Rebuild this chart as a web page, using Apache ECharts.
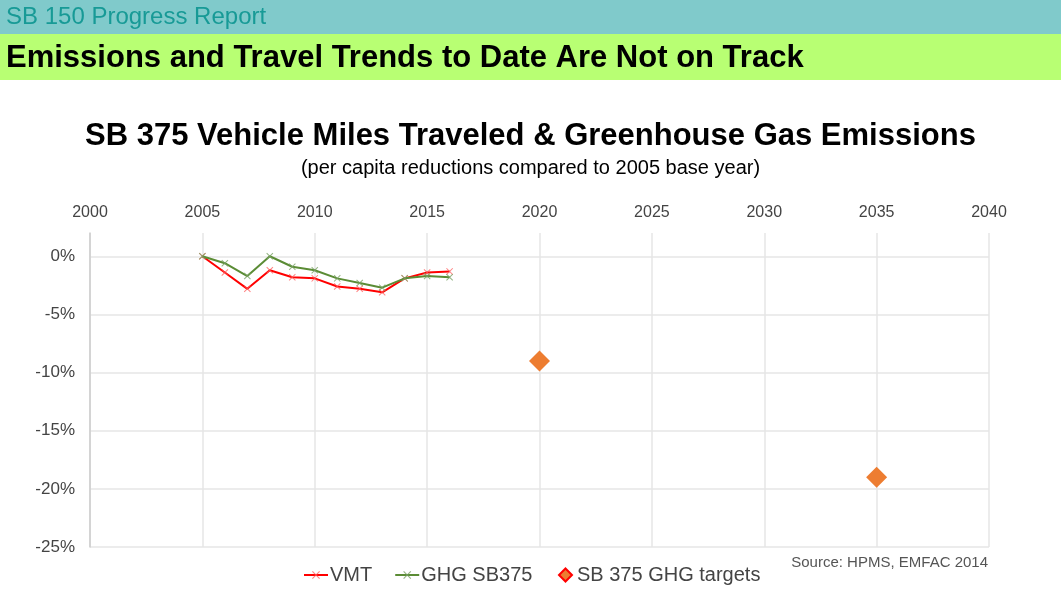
<!DOCTYPE html>
<html>
<head>
<meta charset="utf-8">
<script src="https://cdn.jsdelivr.net/npm/echarts@6/dist/echarts.min.js"></script>
<style>
  html, body { margin: 0; padding: 0; background: #fff; }
  #chart { width: 1061px; height: 596px; }
</style>
</head>
<body>
<div id="chart"></div>
<script>
// years for the observed series
var years = [2005, 2006, 2007, 2008, 2009, 2010, 2011, 2012, 2013, 2014, 2015, 2016];
// per capita change vs 2005 (%)
var vmtValues = [0, -1.4, -2.8, -1.2, -1.8, -1.9, -2.6, -2.8, -3.1, -1.9, -1.4, -1.3];
var ghgValues = [0, -0.6, -1.7, 0, -0.9, -1.2, -1.9, -2.3, -2.7, -1.9, -1.7, -1.8];
// targets
var targetYears = [2020, 2035];
var targetValues = [-9, -19];

var xTicks = [2000, 2040, 5];
var yTicks = [-25, 2, 5];

var crossPath = 'path://M0,1L1,0L5,4L9,0L10,1L6,5L10,9L9,10L5,6L1,10L0,9L4,5Z';

function pairs(xs, ys) {
    var out = [];
    for (var i = 0; i < xs.length; i++) {
        out.push([xs[i], ys[i]]);
    }
    return out;
}

var myChart = echarts.init(document.getElementById('chart'));
var font = '"Liberation Sans", Arial, sans-serif';

var option = {
    backgroundColor: '#fff',
    textStyle: { fontFamily: font },
    graphic: [
        { type: 'rect', left: 0, top: 0, shape: { width: 1061, height: 34 }, style: { fill: '#80CACB' }, z: 0 },
        { type: 'rect', left: 0, top: 34, shape: { width: 1061, height: 46 }, style: { fill: '#B8FF73' }, z: 0 },
        { type: 'text', left: 6, top: 5, style: { text: 'SB 150 Progress Report', fill: '#179A96', font: '24px ' + font }, z: 1 },
        { type: 'text', left: 6, top: 43, style: { text: 'Emissions and Travel Trends to Date Are Not on Track', fill: '#000', font: 'bold 31px ' + font }, z: 1 },
        { type: 'text', right: 73, top: 555, style: { text: 'Source: HPMS, EMFAC 2014', fill: '#555', font: '15px ' + font }, z: 1 }
    ],
    title: {
        text: 'SB 375 Vehicle Miles Traveled & Greenhouse Gas Emissions',
        subtext: '(per capita reductions compared to 2005 base year)',
        left: 'center',
        top: 116,
        itemGap: 6,
        textStyle: { color: '#000', fontSize: 31, fontWeight: 'bold', fontFamily: font },
        subtextStyle: { color: '#000', fontSize: 20, fontFamily: font }
    },
    grid: {
        left: 90,
        right: 72,
        top: 233,
        bottom: 49
    },
    legend: [{
        bottom: 6,
        left: 298,
        itemGap: 22,
        itemWidth: 24,
        itemHeight: 10,
        textStyle: { color: '#444', fontSize: 20, fontFamily: font, padding: [0, 0, 0, -3] },
        data: ['VMT', 'GHG SB375']
    }, {
        bottom: 6,
        left: 553,
        itemWidth: 13,
        itemHeight: 13,
        textStyle: { color: '#444', fontSize: 20, fontFamily: font, padding: [0, 0, 0, 0] },
        data: [{ name: 'SB 375 GHG targets', icon: 'diamond', itemStyle: { borderColor: '#FF0000', borderWidth: 2 } }]
    }],
    xAxis: {
        type: 'value',
        position: 'top',
        min: xTicks[0],
        max: xTicks[1],
        interval: xTicks[2],
        axisLine: { show: false },
        axisTick: { show: false },
        axisLabel: {
            color: '#444',
            fontSize: 16,
            margin: 12,
            fontFamily: font,
            formatter: function(value) { return String(value); }
        },
        splitLine: { lineStyle: { color: '#e6e6e6', width: 1.5 } }
    },
    yAxis: {
        type: 'value',
        min: yTicks[0],
        max: yTicks[1],
        interval: yTicks[2],
        axisLine: { show: true, lineStyle: { color: '#ccc', width: 1.5 } },
        axisTick: { show: false },
        axisLabel: {
            color: '#444',
            fontSize: 17,
            margin: 15,
            fontFamily: font,
            formatter: function(value) {
                return value > 0 ? '' : value + '%';
            }
        },
        splitLine: { showMaxLine: false, lineStyle: { color: '#e6e6e6', width: 1.5 } }
    },
    series: [{
        name: 'VMT',
        type: 'line',
        data: pairs(years, vmtValues),
        symbol: crossPath,
        symbolSize: 7,
        showAllSymbol: true,
        color: '#FF0000',
        lineStyle: { width: 2, color: '#FF0000' },
        itemStyle: { color: 'rgba(255,90,90,0.75)' },
        z: 3
    }, {
        name: 'GHG SB375',
        type: 'line',
        data: pairs(years, ghgValues),
        symbol: crossPath,
        symbolSize: 7,
        showAllSymbol: true,
        color: '#5B8C35',
        lineStyle: { width: 2, color: '#5B8C35' },
        itemStyle: { color: 'rgba(120,160,100,0.8)' },
        z: 4
    }, {
        name: 'SB 375 GHG targets',
        type: 'scatter',
        data: pairs(targetYears, targetValues),
        symbol: 'diamond',
        symbolSize: 21,
        color: '#ED7D31',
        itemStyle: { color: '#ED7D31', opacity: 1 },
        z: 5
    }]
};
myChart.setOption(option);
</script>
</body>
</html>
